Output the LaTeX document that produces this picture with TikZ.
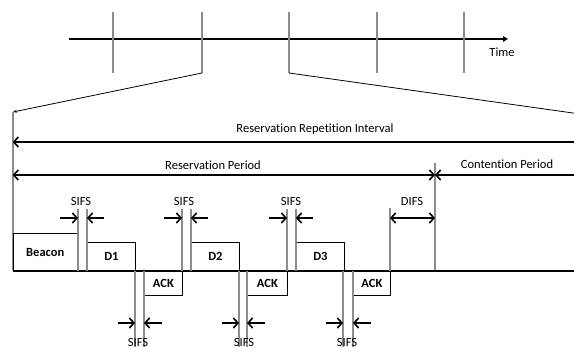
\documentclass[tikz,border=0pt]{standalone}
\usepackage{fontspec}
\setmainfont{Carlito}[Ligatures=NoCommon]
\usetikzlibrary{arrows.meta}
\definecolor{lg}{RGB}{140,140,140}
\begin{document}
\begin{tikzpicture}[x=1pt,y=-1pt,
  font=\fontsize{12.5}{14}\selectfont,
  gl/.style={draw=lg,line width=1.6pt},
  base/.style={draw=black,line width=1.3pt},
  dbl/.style={line width=1.6pt,{Straight Barb[length=4.5pt,width=10pt]}-{Straight Barb[length=4.5pt,width=10pt]}},
  sarr/.style={line width=1.6pt,-{Straight Barb[length=4.5pt,width=10pt]}},
  zline/.style={draw=black,line width=0.8pt},
  frame/.style={draw=black,line width=0.8pt,fill=white,inner sep=0pt,font=\fontsize{12.5}{14}\selectfont\bfseries},
  lbl/.style={inner sep=0pt}]
\clip (0,0) rectangle (574,347);
% top timeline
\coordinate (ts) at (69,39);
\coordinate (te) at (508,39);
\draw[line width=1.6pt,-{Triangle[length=5pt,width=5.5pt]}] (ts) -- (te);
\node[lbl] (time) at (502,52) {Time};
\foreach \i/\x in {1/113,2/202,3/289,4/377,5/464}{
  \coordinate (k\i t) at (\x,12);
  \coordinate (k\i b) at (\x,73);
  \draw[gl] (k\i t) -- (k\i b);
}
% zoom lines
\coordinate (zl) at (13,112);
\coordinate (zr) at (580,114);
\draw[zline,-{Stealth[length=4pt,width=3pt]}] (k2b) -- (zl);
\draw[zline] (k3b) -- (zr);
% left frame line
\coordinate (l0) at (12.7,112);
\coordinate (l1) at (12.7,271);
\draw[gl] (l0) -- (l1);
% baseline
\coordinate (be) at (580,271);
% interval arrows
\coordinate (rri0) at (12.7,142);
\coordinate (rri1) at (582,142);
\draw[dbl] (rri0) -- (rri1);
\node[lbl] (rril) at (315,129) {Reservation Repetition Interval};
\coordinate (rp0) at (12.7,175);
\coordinate (cpt) at (435,163);
\coordinate (cpb) at (435,271);
\coordinate (rp1) at (435,175);
\coordinate (cp1) at (582,175);
\draw[gl] (cpt) -- (cpb);
\draw[dbl] (rp0) -- (rp1);
\draw[dbl] (rp1) -- (cp1);
\node[lbl] (rpl) at (213,165) {Reservation Period};
\node[lbl] (cpl) at (507,164) {Contention Period};
% frames
\node[frame,anchor=south west,minimum width=64.3pt,minimum height=37pt] (beacon) at (12.7,271) {Beacon};
\node[frame,anchor=south west,minimum width=48pt,minimum height=28pt] (d1) at (87,271) {D1};
\node[frame,anchor=north west,minimum width=38pt,minimum height=24pt] (ack1) at (144,271) {ACK};
\node[frame,anchor=south west,minimum width=48pt,minimum height=28pt] (d2) at (191,271) {D2};
\node[frame,anchor=north west,minimum width=40pt,minimum height=24pt] (ack2) at (247,271) {ACK};
\node[frame,anchor=south west,minimum width=48pt,minimum height=28pt] (d3) at (296,271) {D3};
\node[frame,anchor=north west,minimum width=37pt,minimum height=24pt] (ack3) at (353,271) {ACK};
\draw[base] (l1) -- (be);
% upper SIFS / DIFS
\foreach \n/\a/\b/\lx in {1/78/87/81,2/182/191/184,3/287/296/291}{
  \coordinate (ua\n t) at (\a,209);
  \coordinate (ua\n b) at (\a,271);
  \coordinate (ub\n t) at (\b,209);
  \coordinate (ub\n b) at (\b,271);
  \draw[gl] (ua\n t) -- (ua\n b);
  \draw[gl] (ub\n t) -- (ub\n b);
  \coordinate (uar\n) at (\a-18,218);
  \coordinate (uat\n) at (\a,218);
  \coordinate (ubr\n) at (\b+17,218);
  \coordinate (ubt\n) at (\b,218);
  \draw[sarr] (uar\n) -- (uat\n);
  \draw[sarr] (ubr\n) -- (ubt\n);
  \node[lbl] (us\n) at (\lx,201) {SIFS};
}
\coordinate (dft) at (390,208);
\coordinate (dfb) at (390,271);
\draw[gl] (dft) -- (dfb);
\coordinate (dfa) at (390,218);
\coordinate (dfc) at (435,218);
\draw[dbl] (dfa) -- (dfc);
\node[lbl] (difs) at (412,201) {DIFS};
% lower SIFS
\foreach \n/\a/\b/\lx in {1/135/144/138,2/239/247/244,3/343/353/347}{
  \coordinate (la\n t) at (\a,271);
  \coordinate (la\n b) at (\a,350);
  \coordinate (lb\n t) at (\b,271);
  \coordinate (lb\n b) at (\b,350);
  \draw[gl] (la\n t) -- (la\n b);
  \draw[gl] (lb\n t) -- (lb\n b);
  \coordinate (lar\n) at (\a-17,323);
  \coordinate (lat\n) at (\a,323);
  \coordinate (lbr\n) at (\b+18,323);
  \coordinate (lbt\n) at (\b,323);
  \draw[sarr] (lar\n) -- (lat\n);
  \draw[sarr] (lbr\n) -- (lbt\n);
  \node[lbl] (ls\n) at (\lx,342) {SIFS};
}
\end{tikzpicture}
\end{document}
